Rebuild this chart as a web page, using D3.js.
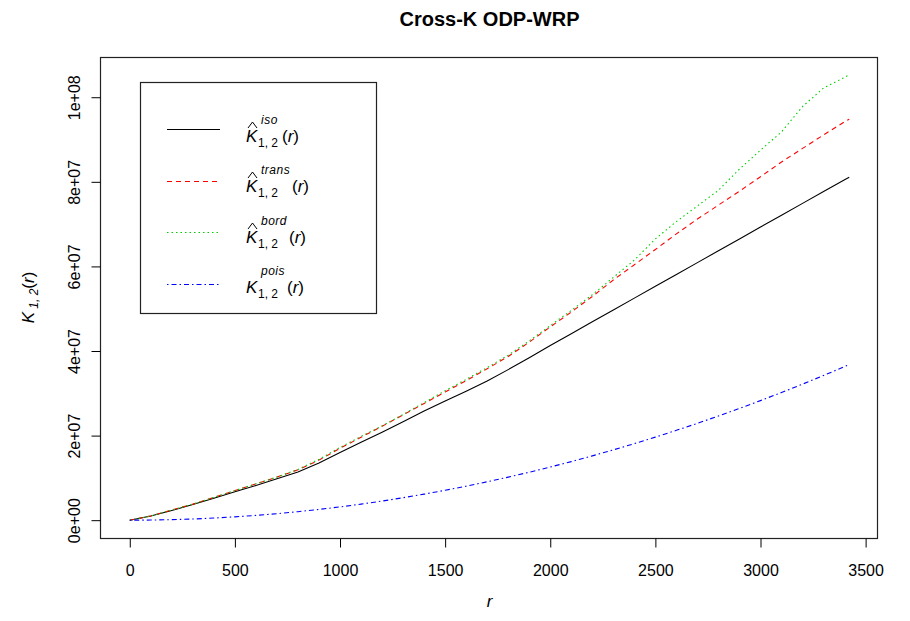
<!DOCTYPE html>
<html>
<head>
<meta charset="utf-8">
<script src="https://cdn.jsdelivr.net/npm/d3@7"></script>
<style>
  body { margin: 0; background: #fff; }
  svg { font-family: "Liberation Sans", Arial, sans-serif; }
</style>
</head>
<body>
<div id="chart"></div>
<script>
// distances r
var rValues = [0, 100, 200, 300, 400, 500, 600, 700, 800, 900, 1000, 1100, 1200, 1300, 1400, 1500,
    1600, 1700, 1800, 1900, 2000, 2100, 2200, 2300, 2400, 2500, 2600, 2700, 2800, 2900, 3000,
    3100, 3200, 3300, 3400, 3422];

// estimates, in units of 1e7
var kIso = [0, 0.10, 0.23, 0.37, 0.52, 0.67, 0.82, 0.98, 1.14, 1.35, 1.60, 1.84, 2.08, 2.33, 2.58, 2.82,
    3.05, 3.29, 3.56, 3.84, 4.13, 4.41, 4.69, 4.97, 5.25, 5.53, 5.81, 6.09, 6.37, 6.65, 6.93,
    7.21, 7.49, 7.77, 8.05, 8.11];
var kTrans = [0, 0.10, 0.24, 0.38, 0.54, 0.70, 0.86, 1.02, 1.19, 1.42, 1.70, 1.96, 2.22, 2.49, 2.76, 3.03,
    3.30, 3.58, 3.87, 4.21, 4.57, 4.92, 5.29, 5.68, 6.04, 6.40, 6.77, 7.12, 7.45, 7.78, 8.12,
    8.47, 8.79, 9.11, 9.42, 9.48];
var kBord = [0, 0.10, 0.24, 0.38, 0.54, 0.70, 0.86, 1.02, 1.20, 1.44, 1.72, 1.98, 2.23, 2.50, 2.78, 3.06,
    3.33, 3.61, 3.90, 4.24, 4.60, 4.96, 5.33, 5.74, 6.15, 6.65, 7.06, 7.43, 7.80, 8.30, 8.75,
    9.18, 9.78, 10.22, 10.47, 10.53];
var kPois = [0, 0.003, 0.013, 0.028, 0.050, 0.079, 0.113, 0.154, 0.201, 0.255, 0.314, 0.380, 0.452, 0.531, 0.616, 0.707,
    0.804, 0.908, 1.018, 1.134, 1.257, 1.385, 1.521, 1.662, 1.810, 1.964, 2.124, 2.290, 2.463, 2.642, 2.827,
    3.019, 3.217, 3.421, 3.632, 3.679];

var xTicks = [0, 500, 1000, 1500, 2000, 2500, 3000, 3500];
var yTicks = [0, 2e7, 4e7, 6e7, 8e7, 1e8];
var yTickLabels = ["0e+00", "2e+07", "4e+07", "6e+07", "8e+07", "1e+08"];

var seriesNames = ["iso", "trans", "bord", "pois"];
var seriesColors = ["#000000", "#ff0000", "#00cd00", "#0000ff"];
var seriesDash = [null, "5,4", "1.5,3", "1.5,3,5,3"];

var width = 910, height = 621;
var box = {left: 101, right: 878, top: 57, bottom: 538};

var series = [kIso, kTrans, kBord, kPois];

var svg = d3.select("#chart").append("svg")
    .attr("width", width)
    .attr("height", height);

// R style 4% padding of the data range
var xMax = d3.max(rValues);
var yMax = d3.max(series, function(s) { return d3.max(s); }) * 1e7;
var x = d3.scaleLinear()
    .domain([-0.04 * xMax, xMax * 1.04])
    .range([box.left, box.right]);
var y = d3.scaleLinear()
    .domain([-0.04 * yMax, yMax * 1.04])
    .range([box.bottom, box.top]);

// title
svg.append("text")
    .attr("x", (box.left + box.right) / 2)
    .attr("y", 26)
    .attr("text-anchor", "middle")
    .style("font-weight", "bold")
    .style("font-size", "20px")
    .text("Cross-K ODP-WRP");

// lines
var line = d3.line()
    .x(function(d) { return x(d[0]); })
    .y(function(d) { return y(d[1] * 1e7); });

for (var i = 0; i < series.length; i++) {
    var pts = rValues.map(function(r, j) { return [r, series[i][j]]; });
    svg.append("path")
        .datum(pts)
        .attr("d", line)
        .attr("fill", "none")
        .attr("stroke", seriesColors[i])
        .attr("stroke-width", 1.1)
        .attr("stroke-dasharray", seriesDash[i]);
}

// box
svg.append("rect")
    .attr("x", box.left - 0.5)
    .attr("y", box.top + 0.5)
    .attr("width", box.right - box.left)
    .attr("height", box.bottom - box.top)
    .attr("fill", "none")
    .attr("stroke", "#222")
    .attr("stroke-width", 1.2);

// x axis
var xAxis = svg.append("g")
    .attr("transform", "translate(0," + (box.bottom + 0.5) + ")")
    .call(d3.axisBottom(x).tickValues(xTicks).tickSize(9).tickFormat(d3.format("d")));
xAxis.select(".domain").remove();
xAxis.selectAll("text")
    .attr("y", 37)
    .attr("dy", 0)
    .style("font-size", "16px")
    .style("font-family", "'Liberation Sans', Arial, sans-serif")
    .attr("fill", "#000");

// y axis
var yAxis = svg.append("g")
    .attr("transform", "translate(" + (box.left - 0.5) + ",0)")
    .call(d3.axisLeft(y).tickValues(yTicks).tickSize(9)
        .tickFormat(function(d, i) { return yTickLabels[i]; }));
yAxis.select(".domain").remove();
yAxis.selectAll("text")
    .attr("x", 0)
    .attr("dy", 0)
    .attr("text-anchor", "middle")
    .attr("transform", "translate(-21,0) rotate(-90)")
    .style("font-size", "16px")
    .style("font-family", "'Liberation Sans', Arial, sans-serif")
    .attr("fill", "#000");

// axis titles
svg.append("text")
    .attr("x", (box.left + box.right) / 2)
    .attr("y", 607)
    .attr("text-anchor", "middle")
    .style("font-size", "17px")
    .style("font-style", "italic")
    .text("r");

var ylab = svg.append("text")
    .attr("text-anchor", "middle")
    .attr("transform", "translate(34," + ((box.top + box.bottom) / 2) + ") rotate(-90)")
    .style("font-size", "17px");
ylab.append("tspan").style("font-style", "italic").text("K");
ylab.append("tspan").style("font-style", "italic").style("font-size", "12px").attr("dy", 4).text(" 1, 2");
ylab.append("tspan").attr("dy", -4).text("(");
ylab.append("tspan").style("font-style", "italic").text("r");
ylab.append("tspan").text(")");

// legend
var legend = svg.append("g");
legend.append("rect")
    .attr("x", 140.5)
    .attr("y", 82.5)
    .attr("width", 236)
    .attr("height", 231)
    .attr("fill", "#fff")
    .attr("stroke", "#222")
    .attr("stroke-width", 1.2);

var legLineY = [129, 181, 232, 284];
var legBase = [142, 192, 243, 293];
var legParenX = [282, 292, 289, 287];

for (var k = 0; k < seriesNames.length; k++) {
    legend.append("line")
        .attr("x1", 167).attr("x2", 220)
        .attr("y1", legLineY[k] + 0.5).attr("y2", legLineY[k] + 0.5)
        .attr("stroke", seriesColors[k])
        .attr("stroke-width", 1.1)
        .attr("stroke-dasharray", seriesDash[k]);

    var yb = legBase[k];
    legend.append("text")
        .attr("x", 246).attr("y", yb)
        .style("font-size", "17px").style("font-style", "italic")
        .text("K");
    if (k < 3) {
        // the hat over K
        legend.append("path")
            .attr("d", "M248," + (yb - 14) + "L252.5," + (yb - 20) + "L257," + (yb - 14))
            .attr("fill", "none")
            .attr("stroke", "#000")
            .attr("stroke-width", 1);
    }
    legend.append("text")
        .attr("x", 261).attr("y", yb - 18)
        .style("font-size", "12px").style("font-style", "italic")
        .attr("letter-spacing", "0.5px")
        .text(seriesNames[k]);
    legend.append("text")
        .attr("x", 258).attr("y", yb + 5)
        .style("font-size", "12px")
        .text("1, 2");
    var par = legend.append("text")
        .attr("x", legParenX[k]).attr("y", yb)
        .style("font-size", "17px");
    par.append("tspan").text("(");
    par.append("tspan").style("font-style", "italic").text("r");
    par.append("tspan").text(")");
}
</script>
</body>
</html>
